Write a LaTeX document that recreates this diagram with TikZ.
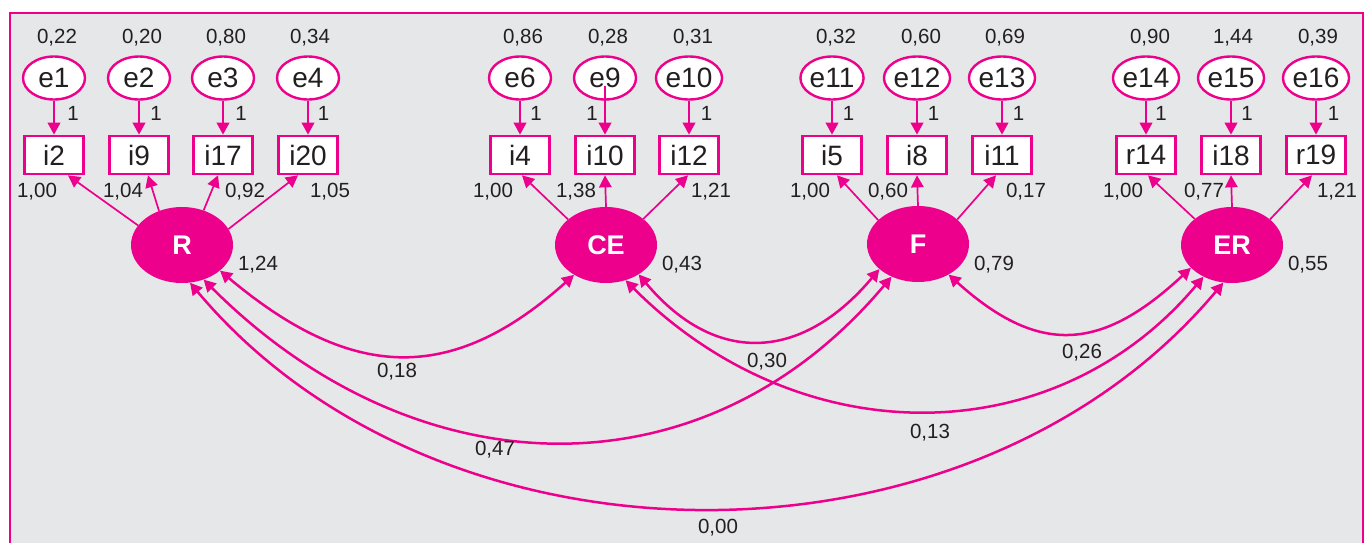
\documentclass[tikz,border=0pt]{standalone}
\usepackage{fontspec}
\setmainfont{Liberation Sans}
\usetikzlibrary{shapes.geometric,arrows.meta}
\definecolor{mag}{HTML}{EC008C}
\definecolor{panel}{HTML}{E6E7E8}
\definecolor{ink}{HTML}{231F20}
\tikzset{
  tip/.tip={Triangle[length=12pt,width=12.5pt]},
  errnode/.style={ellipse, draw=mag, line width=2.4pt, fill=white,
    minimum width=62pt, minimum height=43pt, inner sep=0pt, text=ink,
    font=\fontsize{28}{28}\selectfont},
  obsnode/.style={rectangle, draw=mag, line width=2.7pt, fill=white,
    minimum width=58.5pt, minimum height=38pt, inner sep=0pt, text=ink,
    font=\fontsize{28}{28}\selectfont},
  latnode/.style={ellipse, fill=mag, minimum width=102pt, minimum height=76pt,
    inner sep=0pt, text=white, font=\fontsize{27}{27}\selectfont\bfseries},
  lab/.style={text=ink, inner sep=0pt, font=\fontsize{20.5}{20.5}\selectfont},
  errarrow/.style={draw=mag, line width=2.2pt, -tip},
  loadarrow/.style={draw=mag, line width=1.7pt, -tip},
  covarrow/.style={draw=mag, line width=2.5pt, tip-tip},
}
\begin{document}
\begin{tikzpicture}[x=1pt,y=1pt]
\useasboundingbox (0,0) rectangle (1366,-542);
% panel
\fill[white] (0,0) rectangle (1366,-542);
\draw[mag, line width=2.8pt, fill=panel] (10,-13) rectangle (1363,-600);

% error terms
\foreach \n/\x in {e1/54,e2/139,e3/223,e4/308,e6/520,e9/605,e10/689,
                   e11/832,e12/917,e13/1002,e14/1146,e15/1231,e16/1316}
  \node[errnode] (\n) at (\x,-78) {\n};

% observed items
\foreach \n/\x in {i2/54,i9/139,i17/223,i20/308,i4/520,i10/605,i12/689,
                   i5/832,i8/917,i11/1002,r14/1146,i18/1231,r19/1316}
  \node[obsnode] (\n) at (\x,-155) {\n};

% latent factors
\node[latnode] (R)  at (182,-245) {R};
\node[latnode] (CE) at (606,-245) {CE};
\node[latnode] (F)  at (918,-244) {F};
\node[latnode] (ER) at (1232,-245) {ER};

% error paths
\foreach \e/\i in {e1/i2,e2/i9,e3/i17,e4/i20,e6/i4,e10/i12,
                   e11/i5,e12/i8,e13/i11,e14/r14,e15/i18,e16/r19}
  \draw[errarrow] (\e.south) -- (\i.north);
\draw[errarrow] ([yshift=-8pt]e9.center) -- (i10.north);

% error variances
\foreach \x/\t in {57/{0,22},142/{0,20},226/{0,80},310/{0,34},
                   523/{0,86},608/{0,28},693/{0,31},
                   836/{0,32},921/{0,60},1005/{0,69},
                   1150/{0,90},1233/{1,44},1318/{0,39}}
  \node[lab] at (\x,-38) {\t};

% fixed path coefficients
\foreach \x in {73,156,241,323.5,536,706.5,848.5,933.5,1018.5,1161,1247,1333.5}
  \node[lab] at (\x,-113) {1};
\node[lab] at (592,-113) {1};

% loadings
\draw[loadarrow] (R.156) -- ([xshift=14pt]i2.south);
\draw[loadarrow] (R.124) -- ([xshift=9pt]i9.south);
\draw[loadarrow] (R.58)  -- ([xshift=-5pt]i17.south);
\draw[loadarrow] (R.19.5) -- ([xshift=-10pt]i20.south);
\draw[loadarrow] (CE.146) -- ([xshift=2pt]i4.south);
\draw[loadarrow] (CE.90)  -- (i10.south);
\draw[loadarrow] (CE.35)  -- ([xshift=-1pt]i12.south);
\draw[loadarrow] (F.149) -- ([xshift=5pt]i5.south);
\draw[loadarrow] (F.90)  -- (i8.south);
\draw[loadarrow] (F.32)  -- ([xshift=-6pt]i11.south);
\draw[loadarrow] (ER.145) -- ([xshift=2pt]r14.south);
\draw[loadarrow] (ER.90)  -- (i18.south);
\draw[loadarrow] (ER.34)  -- ([xshift=-4pt]r19.south);

% loading estimates
\foreach \x/\t in {37/{1,00},123/{1,04},245/{0,92},330/{1,05},
                   493/{1,00},576/{1,38},711/{1,21},
                   810/{1,00},888/{0,60},1026/{0,17},
                   1123/{1,00},1204/{0,77},1337/{1,21}}
  \node[lab] at (\x,-192) {\t};

% factor variances
\node[lab] at (258,-265) {1,24};
\node[lab] at (682,-265) {0,43};
\node[lab] at (994,-265) {0,79};
\node[lab] at (1308,-265) {0,55};

% covariances
\draw[covarrow] (R.-34) .. controls +(-40:168pt) and +(-138:168pt) .. (CE.-137);
\draw[covarrow] (CE.-42) .. controls +(-50:120pt) and +(-130:120pt) .. (F.-147);
\draw[covarrow] (F.-45) .. controls +(-42:122pt) and +(-137:122pt) .. (ER.-151);
\draw[covarrow] (R.-58) .. controls +(-45:300pt) and +(-130:292pt) .. (F.-129);
\draw[covarrow] (CE.-61) .. controls +(-45:249pt) and +(-130:230pt) .. (ER.-132);
\draw[covarrow] (R.-78) .. controls +(-50:392pt) and +(-130:392pt) .. (ER.-103);

% covariance estimates
\node[lab] at (397,-372) {0,18};
\node[lab] at (767,-362) {0,30};
\node[lab] at (1082,-353) {0,26};
\node[lab] at (495,-450) {0,47};
\node[lab] at (930,-433) {0,13};
\node[lab] at (718,-528) {0,00};
\end{tikzpicture}
\end{document}
